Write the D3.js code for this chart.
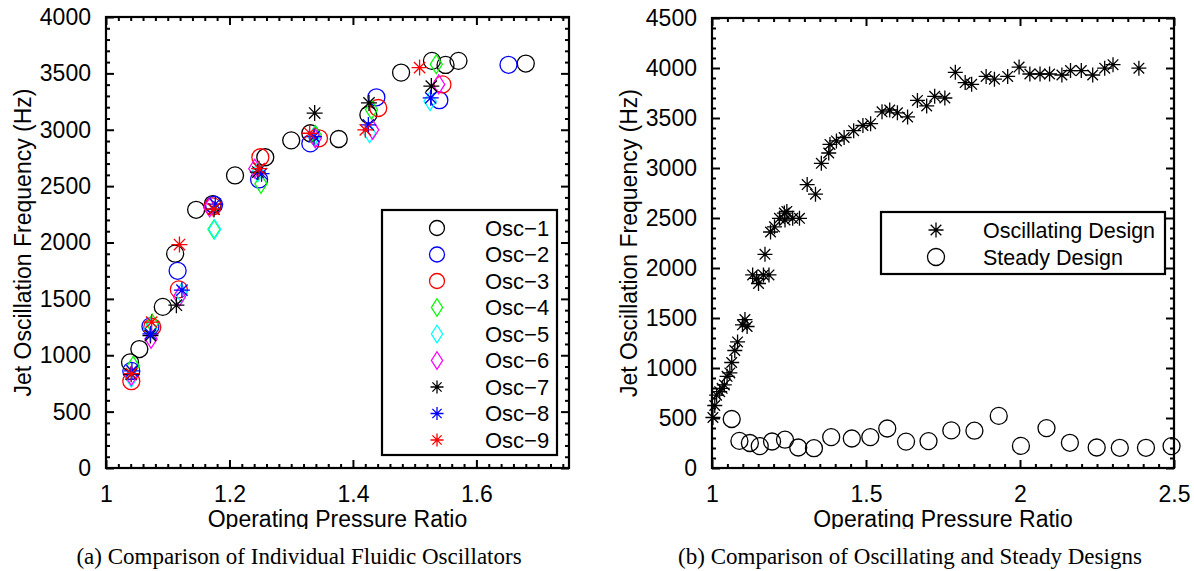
<!DOCTYPE html>
<html>
<head>
<meta charset="utf-8">
<script src="https://cdn.jsdelivr.net/npm/d3@7/dist/d3.min.js"></script>
<style>
  html, body { margin: 0; padding: 0; background: #fff; }
  svg { display: block; }
</style>
</head>
<body>
<svg id="chart" width="1194" height="571"></svg>
<script>
// ---- Panel (a): individual fluidic oscillators ----
const oscNames = ["Osc\u22121","Osc\u22122","Osc\u22123","Osc\u22124","Osc\u22125","Osc\u22126","Osc\u22127","Osc\u22128","Osc\u22129"];
const oscColors = ["#000000","#0000ff","#ff0000","#00ff00","#00ffff","#ff00ff","#000000","#0000ff","#ff0000"];
const oscSymbols = ["circle","circle","circle","diamond","diamond","diamond","star","star","star"];

const osc1X = [1.039,1.054,1.092,1.112,1.146,1.173,1.209,1.258,1.300,1.331,1.377,1.425,1.478,1.528,1.550,1.571,1.680];
const osc1Y = [936,1055,1429,1901,2290,2341,2595,2756,2906,2969,2918,3133,3507,3611,3575,3611,3587];
const osc2X = [1.041,1.072,1.116,1.175,1.248,1.331,1.438,1.540,1.652];
const osc2Y = [861,1256,1749,2335,2559,2879,3288,3262,3576];
const osc3X = [1.041,1.075,1.118,1.173,1.250,1.345,1.441,1.545];
const osc3Y = [770,1250,1584,2320,2756,2924,3193,3402];
const osc4X = [1.044,1.075,1.175,1.251,1.339,1.430,1.535];
const osc4Y = [906,1280,2117,2520,2954,3178,3581];
const osc5X = [1.041,1.072,1.122,1.176,1.246,1.337,1.427,1.525];
const osc5Y = [801,1235,1549,2117,2625,2939,2969,3253];
const osc6X = [1.041,1.073,1.119,1.168,1.241,1.339,1.432,1.539];
const osc6Y = [816,1145,1519,2311,2655,2924,2999,3402];
const osc7X = [1.041,1.072,1.114,1.175,1.246,1.338,1.426,1.527];
const osc7Y = [831,1175,1444,2296,2625,3148,3238,3387];
const osc8X = [1.042,1.072,1.123,1.177,1.252,1.337,1.425,1.526];
const osc8Y = [861,1190,1578,2341,2610,2939,3043,3283];
const osc9X = [1.041,1.074,1.119,1.174,1.248,1.330,1.420,1.508];
const osc9Y = [837,1294,1982,2296,2655,2969,2999,3551];

const panelAXTicks = [1, 1.2, 1.4, 1.6];
const panelAXTickLabels = ["1", "1.2", "1.4", "1.6"];
const panelAYTicks = [0,500,1000,1500,2000,2500,3000,3500,4000];

// ---- Panel (b): oscillating vs steady designs ----
const oscillatingX = [1.003,1.009,1.015,1.025,1.033,1.040,1.049,1.058,1.064,1.074,1.083,1.099,1.107,1.114,1.132,1.145,1.151,1.167,1.185,1.172,1.190,1.203,1.219,1.235,1.243,1.237,1.262,1.284,1.309,1.336,1.355,1.379,1.383,1.404,1.429,1.460,1.490,1.515,1.552,1.577,1.602,1.635,1.667,1.697,1.723,1.756,1.790,1.822,1.843,1.890,1.917,1.960,1.997,2.032,2.065,2.096,2.136,2.164,2.199,2.236,2.275,2.302,2.386];
const oscillatingY = [505,625,728,763,797,831,917,951,1055,1175,1261,1432,1484,1415,1931,1896,1845,1931,1931,2137,2360,2412,2497,2549,2566,2480,2497,2497,2834,2738,3047,3150,3236,3271,3305,3373,3425,3443,3562,3580,3552,3511,3676,3621,3717,3700,3957,3854,3837,3916,3888,3916,4009,3940,3940,3940,3930,3974,3974,3930,3998,4033,3998];
const steadyX = [1.064,1.089,1.123,1.155,1.195,1.237,1.280,1.331,1.387,1.454,1.514,1.569,1.630,1.703,1.777,1.852,1.931,2.003,2.086,2.162,2.249,2.324,2.409,2.492];
const steadyY = [490,271,250,219,265,283,205,198,309,295,309,395,264,269,376,373,521,221,399,252,205,202,202,219];

const panelBXTicks = [1, 1.5, 2, 2.5];
const panelBXTickLabels = ["1", "1.5", "2", "2.5"];
const panelBYTicks = [0,500,1000,1500,2000,2500,3000,3500,4000,4500];

const xTitle = "Operating Pressure Ratio";
const yTitle = "Jet Oscillation Frequency (Hz)";
const captionA = "(a) Comparison of Individual Fluidic Oscillators";
const captionB = "(b) Comparison of Oscillating and Steady Designs";
const legendB = ["Oscillating Design", "Steady Design"];

// ---------------------------------------------------------------
const svg = d3.select("#chart");
const SANS = "'Liberation Sans', Arial, Helvetica, sans-serif";
const SERIF = "'Liberation Serif', 'Times New Roman', serif";

// marker path builders (MATLAB style: o, d, *)
function markerPath(sym, r) {
  const p = d3.path();
  if (sym === "circle") {
    p.moveTo(r, 0); p.arc(0, 0, r, 0, 2 * Math.PI);
  } else if (sym === "diamond") {
    const w = r * 0.72, h = r * 1.12;
    p.moveTo(0, -h); p.lineTo(w, 0); p.lineTo(0, h); p.lineTo(-w, 0); p.closePath();
  } else if (sym === "star") {
    const d = r * Math.SQRT1_2;
    p.moveTo(-r, 0); p.lineTo(r, 0);
    p.moveTo(0, -r); p.lineTo(0, r);
    p.moveTo(-d, -d); p.lineTo(d, d);
    p.moveTo(-d, d); p.lineTo(d, -d);
  }
  return p.toString();
}

function minorValues(lo, hi, step, majors) {
  const n = Math.round((hi - lo) / step);
  const out = [];
  for (let i = 0; i <= n; i++) {
    const v = +(lo + i * step).toFixed(6);
    if (v <= hi + 1e-9 && !majors.some(m => Math.abs(m - v) < 1e-6)) out.push(v);
  }
  return out;
}

function drawFrame(x, y, opts) {
  const [x0, x1] = x.range();
  const [yb, yt] = y.range();
  const g = svg.append("g");
  const styleAxis = sel => {
    sel.select(".domain").remove();
    sel.selectAll(".tick line").attr("stroke", "#000").attr("stroke-width", 2);
  };
  const xMinor = minorValues(x.domain()[0], x.domain()[1], opts.xMinor, opts.xTicks);
  const yMinor = minorValues(y.domain()[0], y.domain()[1], opts.yMinor, opts.yTicks);

  // minor ticks on all four sides
  g.append("g").attr("transform", `translate(0,${yb})`)
    .call(d3.axisBottom(x).tickValues(xMinor).tickSize(-4).tickFormat("")).call(styleAxis);
  g.append("g").attr("transform", `translate(0,${yt})`)
    .call(d3.axisTop(x).tickValues(xMinor).tickSize(-4).tickFormat("")).call(styleAxis);
  g.append("g").attr("transform", `translate(${x0},0)`)
    .call(d3.axisLeft(y).tickValues(yMinor).tickSize(-4).tickFormat("")).call(styleAxis);
  g.append("g").attr("transform", `translate(${x1},0)`)
    .call(d3.axisRight(y).tickValues(yMinor).tickSize(-4).tickFormat("")).call(styleAxis);

  // major ticks with labels on bottom and left
  const bx = g.append("g").attr("transform", `translate(0,${yb})`)
    .call(d3.axisBottom(x).tickValues(opts.xTicks).tickSize(-8).tickPadding(18)
      .tickFormat((d, i) => opts.xLabels[i])).call(styleAxis);
  g.append("g").attr("transform", `translate(0,${yt})`)
    .call(d3.axisTop(x).tickValues(opts.xTicks).tickSize(-8).tickFormat("")).call(styleAxis);
  const ly = g.append("g").attr("transform", `translate(${x0},0)`)
    .call(d3.axisLeft(y).tickValues(opts.yTicks).tickSize(-8).tickPadding(15)
      .tickFormat(d3.format("d"))).call(styleAxis);
  g.append("g").attr("transform", `translate(${x1},0)`)
    .call(d3.axisRight(y).tickValues(opts.yTicks).tickSize(-8).tickFormat("")).call(styleAxis);

  [bx, ly].forEach(a => a.selectAll("text")
    .attr("font-family", SANS).attr("font-size", 23).attr("fill", "#000"));

  // box
  g.append("rect").attr("x", x0).attr("y", yt).attr("width", x1 - x0).attr("height", yb - yt)
    .attr("fill", "none").attr("stroke", "#000").attr("stroke-width", 2.2);

  // axis titles (bottom title is clipped by the caption band)
  const clipId = "clip" + opts.id;
  svg.append("clipPath").attr("id", clipId).append("rect")
    .attr("x", x0 - 200).attr("y", yb + 30).attr("width", x1 - x0 + 400).attr("height", 529 - yb - 30);
  svg.append("text").attr("clip-path", `url(#${clipId})`)
    .attr("x", (x0 + x1) / 2).attr("y", 527).attr("text-anchor", "middle")
    .attr("font-family", SANS).attr("font-size", 23).text(xTitle);
  svg.append("text")
    .attr("transform", `translate(${opts.yTitleX},${(yb + yt) / 2}) rotate(-90)`)
    .attr("text-anchor", "middle")
    .attr("font-family", SANS).attr("font-size", 23).text(yTitle);
}

// ---------------- Panel (a) ----------------
const xA = d3.scaleLinear().domain([1, 1.75]).range([106, 569]);
const yA = d3.scaleLinear().domain([0, 4000]).range([468, 17]);

const oscX = [osc1X, osc2X, osc3X, osc4X, osc5X, osc6X, osc7X, osc8X, osc9X];
const oscY = [osc1Y, osc2Y, osc3Y, osc4Y, osc5Y, osc6Y, osc7Y, osc8Y, osc9Y];
const markerR = { circle: 8.5, diamond: 8.4, star: 8 };

const gA = svg.append("g");
oscNames.forEach((name, s) => {
  const pts = oscX[s].map((xv, i) => [xv, oscY[s][i]]);
  gA.append("g").selectAll("path").data(pts).join("path")
    .attr("transform", d => `translate(${xA(d[0])},${yA(d[1])})`)
    .attr("d", markerPath(oscSymbols[s], markerR[oscSymbols[s]]))
    .attr("fill", "none").attr("stroke", oscColors[s]).attr("stroke-width", 1.3);
});

drawFrame(xA, yA, {
  id: "A", xTicks: panelAXTicks, xLabels: panelAXTickLabels, yTicks: panelAYTicks,
  xMinor: 0.02, yMinor: 100, yTitleX: 31
});

// legend (a)
const legA = svg.append("g");
legA.append("rect").attr("x", 382).attr("y", 210).attr("width", 175).attr("height", 245)
  .attr("fill", "#fff").attr("stroke", "#000").attr("stroke-width", 2.2);
oscNames.forEach((name, s) => {
  const cy = 228 + s * 26.5;
  legA.append("path").attr("transform", `translate(437,${cy})`)
    .attr("d", markerPath(oscSymbols[s], s < 3 ? 7.5 : (s < 6 ? 7.8 : 6.5)))
    .attr("fill", "none").attr("stroke", oscColors[s]).attr("stroke-width", 1.3);
  legA.append("text").attr("x", 485).attr("y", cy).attr("dy", "0.36em")
    .attr("font-family", SANS).attr("font-size", 22).text(name);
});

// ---------------- Panel (b) ----------------
const xB = d3.scaleLinear().domain([1, 2.5]).range([712, 1174]);
const yB = d3.scaleLinear().domain([0, 4500]).range([468, 18]);

const gB = svg.append("g");
const oscPts = oscillatingX.map((xv, i) => [xv, oscillatingY[i]]);
const stPts = steadyX.map((xv, i) => [xv, steadyY[i]]);

gB.append("g").selectAll("path").data(oscPts).join("path")
  .attr("transform", d => `translate(${xB(d[0])},${yB(d[1])})`)
  .attr("d", markerPath("star", 7.5))
  .attr("fill", "none").attr("stroke", "#000").attr("stroke-width", 1.3);
gB.append("g").selectAll("path").data(stPts).join("path")
  .attr("transform", d => `translate(${xB(d[0])},${yB(d[1])})`)
  .attr("d", markerPath("circle", 8.5))
  .attr("fill", "none").attr("stroke", "#000").attr("stroke-width", 1.3);

drawFrame(xB, yB, {
  id: "B", xTicks: panelBXTicks, xLabels: panelBXTickLabels, yTicks: panelBYTicks,
  xMinor: 0.05, yMinor: 100, yTitleX: 637
});

// legend (b)
const legB = svg.append("g");
legB.append("rect").attr("x", 881).attr("y", 212).attr("width", 284).attr("height", 62)
  .attr("fill", "#fff").attr("stroke", "#000").attr("stroke-width", 2.2);
[["star", 7.5], ["circle", 8.5]].forEach((m, i) => {
  const cy = 230 + i * 27;
  legB.append("path").attr("transform", `translate(936,${cy})`)
    .attr("d", markerPath(m[0], m[1]))
    .attr("fill", "none").attr("stroke", "#000").attr("stroke-width", 1.3);
  legB.append("text").attr("x", 983).attr("y", cy).attr("dy", "0.36em")
    .attr("font-family", SANS).attr("font-size", 21.5).text(legendB[i]);
});

// captions
svg.append("text").attr("x", 299).attr("y", 564).attr("text-anchor", "middle")
  .attr("font-family", SERIF).attr("font-size", 23).text(captionA);
svg.append("text").attr("x", 910).attr("y", 564).attr("text-anchor", "middle")
  .attr("font-family", SERIF).attr("font-size", 23).text(captionB);
</script>
</body>
</html>
